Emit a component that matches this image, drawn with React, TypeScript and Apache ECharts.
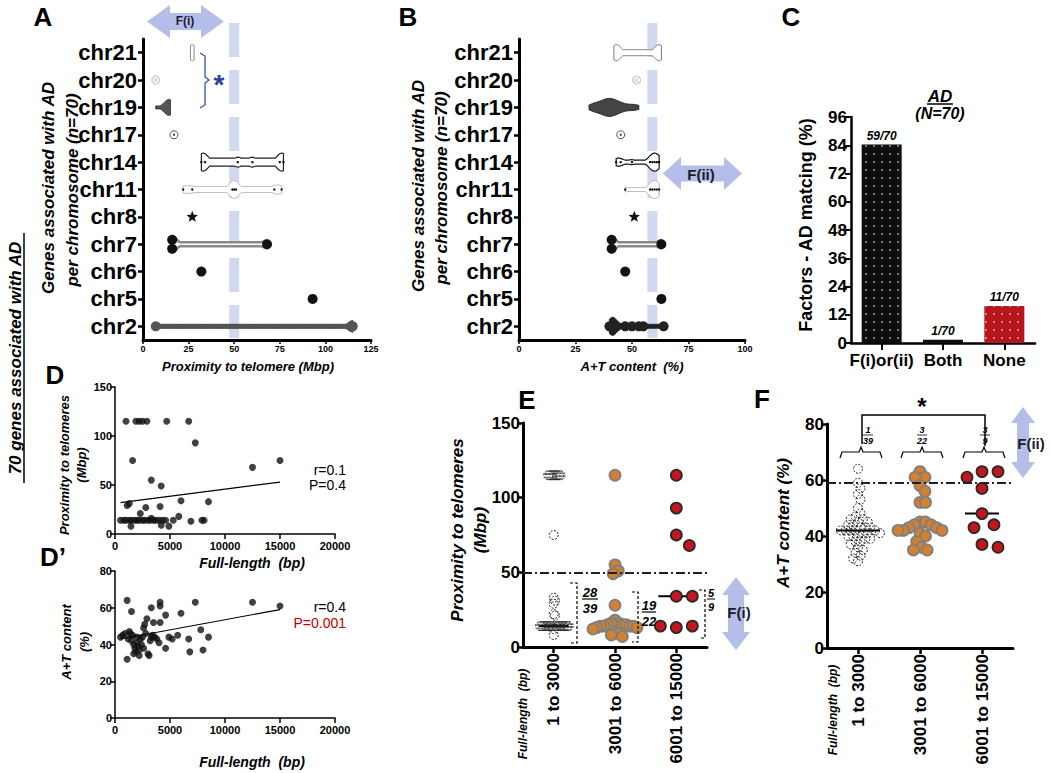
import React, { useEffect, useRef } from "react";
import * as echarts from "echarts";

const FONT = "'Liberation Sans', Arial, Helvetica, sans-serif";

// ---------- Panel A / B : genes per chromosome ----------
const chromosomes = ["chr2", "chr5", "chr6", "chr7", "chr8", "chr11", "chr14", "chr17", "chr19", "chr20", "chr21"];

const telomereA: number[][] = [
  [7, 115, 115, 115, 115, 115, 115, 115],
  [93],
  [32],
  [16, 16, 68],
  [27],
  [22, 27, 49, 50, 51, 72, 76],
  [32, 34, 52, 60, 75, 77],
  [17],
  [7, 12, 12.5, 13, 13, 13.5, 13.5, 14, 14, 14, 14, 14, 14, 14, 14, 14, 14, 14, 14, 14, 14, 14, 14, 14, 14.5, 14.5, 14.5, 14.5, 15, 15, 15, 15, 15, 15, 15, 15, 15, 15, 15, 15],
  [7],
  [26, 26.5, 27.5, 28],
];

const atContentB: number[][] = [
  [40, 41, 41, 41, 42, 42, 43, 47, 50, 53, 55, 64],
  [63],
  [47],
  [41, 41, 63],
  [51],
  [47, 58, 59, 60, 61, 62],
  [43, 45, 50, 58, 59, 60, 61, 62],
  [45],
  [31, 32, 33, 33, 34, 35, 35, 36, 36, 37, 37, 38, 38, 38, 39, 39, 39, 40, 40, 40, 41, 41, 41, 42, 42, 42, 43, 43, 44, 44, 45, 45, 46, 47, 48, 49, 50, 51, 52, 53],
  [52],
  [42, 44, 61, 63],
];

const thresholdA = 50;
const thresholdB = 59;

// ---------- Panel C ----------
const cCategories = ["F(i)or(ii)", "Both", "None"];
const cCounts = [59, 1, 11];
const cTotal = 70;

// ---------- Panel D ----------
const dLength = [1000, 1900, 2200, 2500, 2900, 4700, 6700, 7300, 1600, 15000, 12500, 3300, 4200, 6000, 8500, 1300, 1100, 2800, 4100, 2300, 5800, 3300,
  500, 800, 1000, 1300, 1500, 1800, 2000, 2200, 2500, 2700, 3000, 3200, 3500, 3700, 4000, 4300, 4600, 5300, 6900, 7900, 8100, 1450, 4200, 4900];
const dProximity = [115, 115, 115, 115, 115, 115, 115, 93, 75, 75, 68, 55, 49, 34, 33, 31, 29, 27, 28, 21, 18, 16,
  14, 14, 14, 14, 14, 14, 14, 14, 14, 14, 14, 14, 14, 14, 14, 14, 14, 14, 13, 14, 14, 8, 9, 8];
const dFit = [[500, 32], [15000, 53]];

// ---------- Panel D' ----------
const dpLength = [1100, 1500, 3300, 4100, 4100, 7300, 12500, 15000, 4600, 6000, 2900, 2700, 2600, 3500, 4100, 7800, 8500, 6700, 5200, 4900, 5700, 4600, 6800, 8000, 1100,
  500, 700, 900, 1200, 1300, 1500, 1600, 1700, 1800, 1900, 2000, 2100, 2200, 2300, 2400, 2500, 2600, 2800, 3000, 3100, 3200, 3300, 3400, 3600, 3800, 4000, 1700, 2200, 1400, 2000];
const dpContent = [64, 58, 60, 63, 61, 63, 63, 61, 56, 57, 54, 51, 49, 52, 52, 48, 44, 43, 43, 44, 45, 38, 36, 37, 32,
  44, 45, 46, 43, 47, 42, 45, 40, 38, 36, 41, 39, 37, 43, 40, 44, 38, 46, 35, 34, 42, 44, 45, 44, 43, 41, 35, 34, 46, 44];
const dpFit = [[500, 43], [15000, 59]];

// ---------- Panel E / F ----------
const lengthGroups = ["1 to 3000", "3001 to 6000", "6001 to 15000"];
const eShort = [115, 115, 115, 115, 115, 115, 115, 115, 115, 115, 75, 33, 31, 29, 22, 21, 12, 8,
  14, 14, 14, 14, 14, 14, 14, 14, 14, 14, 14, 14, 14, 14, 14, 14, 14, 14, 14, 14, 14];
const eMid = [115, 55, 51, 49, 28, 18, 16, 16, 15, 15, 15, 14, 14, 14, 14, 13, 13, 12, 10, 9, 8, 7];
const eLong = [115, 93, 75, 68, 34, 34, 13, 14, 14];
const fShort = [64, 59, 57, 55, 53, 50, 48, 47, 46, 46, 45, 45, 44, 44, 43, 43, 43, 42, 42, 42, 42, 42, 41, 41, 41, 40, 40, 40, 39, 39, 38, 38, 37, 36, 35, 34, 33, 32, 31];
const fMid = [63, 61, 61, 58, 56, 52, 52, 45, 45, 44, 44, 43, 43, 42, 42, 42, 41, 40, 38, 36, 35, 35];
const fLong = [63, 63, 61, 57, 48, 44, 43, 37, 36];

// ---------- helpers ----------
type VStyle = { kind: string; fill?: string; stroke?: string; lw?: number; maxHalf?: number; minHalf?: number; dots?: string; stack?: boolean };

const stylesA: VStyle[] = [
  { kind: "violin", fill: "#555", stroke: "#444", lw: 1, maxHalf: 6, minHalf: 2, dots: "big" },
  { kind: "big" },
  { kind: "big" },
  { kind: "violin", fill: "#fff", stroke: "#888", lw: 2.5, maxHalf: 8, minHalf: 2, dots: "big", stack: true },
  { kind: "star" },
  { kind: "violin", fill: "#fff", stroke: "#bbb", lw: 1, maxHalf: 9, minHalf: 3, dots: "small" },
  { kind: "violin", fill: "#fff", stroke: "#222", lw: 1.2, maxHalf: 9, minHalf: 4, dots: "small" },
  { kind: "circleDot" },
  { kind: "violin", fill: "#555", stroke: "#333", lw: 1, maxHalf: 8, minHalf: 1.5, dots: "none" },
  { kind: "circleX" },
  { kind: "violin", fill: "#fff", stroke: "#888", lw: 1, maxHalf: 8, minHalf: 3, dots: "none" },
];
const stylesB: VStyle[] = [
  { kind: "violin", fill: "#222", stroke: "#222", lw: 1, maxHalf: 9, minHalf: 2, dots: "big" },
  { kind: "big" },
  { kind: "big" },
  { kind: "violin", fill: "#fff", stroke: "#888", lw: 2.5, maxHalf: 8, minHalf: 2, dots: "big", stack: true },
  { kind: "star" },
  { kind: "violin", fill: "#fff", stroke: "#aaa", lw: 1, maxHalf: 9, minHalf: 2, dots: "small" },
  { kind: "violin", fill: "#fff", stroke: "#111", lw: 1.2, maxHalf: 9, minHalf: 2, dots: "small" },
  { kind: "circleDot" },
  { kind: "violin", fill: "#444", stroke: "#222", lw: 1, maxHalf: 9, minHalf: 2, dots: "none" },
  { kind: "circleX" },
  { kind: "violin", fill: "#fff", stroke: "#777", lw: 1, maxHalf: 8, minHalf: 3, dots: "none" },
];

function starPts(cx: number, cy: number, R: number, r: number) {
  const pts: number[][] = [];
  for (let k = 0; k < 10; k++) {
    const a = -Math.PI / 2 + (k * Math.PI) / 5;
    const rr = k % 2 ? r : R;
    pts.push([cx + rr * Math.cos(a), cy + rr * Math.sin(a)]);
  }
  return pts;
}

function marker(kind: string, x: number, y: number): any[] {
  if (kind === "big") return [{ type: "circle", shape: { cx: x, cy: y, r: 5 }, style: { fill: "#111" } }];
  if (kind === "circleDot")
    return [
      { type: "circle", shape: { cx: x, cy: y, r: 4 }, style: { fill: "#fff", stroke: "#555", lineWidth: 1 } },
      { type: "circle", shape: { cx: x, cy: y, r: 1 }, style: { fill: "#333" } },
    ];
  if (kind === "circleX")
    return [
      { type: "circle", shape: { cx: x, cy: y, r: 4 }, style: { fill: "#fff", stroke: "#bbb", lineWidth: 1 } },
      { type: "line", shape: { x1: x - 2.5, y1: y - 2.5, x2: x + 2.5, y2: y + 2.5 }, style: { stroke: "#bbb", lineWidth: 1 } },
      { type: "line", shape: { x1: x - 2.5, y1: y + 2.5, x2: x + 2.5, y2: y - 2.5 }, style: { stroke: "#bbb", lineWidth: 1 } },
    ];
  if (kind === "star") return [{ type: "polygon", shape: { points: starPts(x, y, 6, 2.6) }, style: { fill: "#111" } }];
  return [];
}

function makeViolinRender(values: number[][], styles: VStyle[], bw: number) {
  return (params: any, api: any) => {
    const ci = api.value(1);
    const vals = values[ci];
    const st = styles[ci];
    const yc = api.coord([0, ci])[1];
    if (st.kind !== "violin") {
      const p = api.coord([vals[0], ci]);
      return { type: "group", children: marker(st.kind, p[0], p[1]) };
    }
    const children: any[] = [];
    const lo = Math.min(...vals);
    const hi = Math.max(...vals);
    const N = 60;
    const dens: number[] = [];
    for (let i = 0; i <= N; i++) {
      const t = lo + ((hi - lo) * i) / N;
      let s = 0;
      for (const v of vals) s += Math.exp(-0.5 * ((t - v) / bw) ** 2);
      dens.push(s);
    }
    const mx = Math.max(...dens);
    const top: number[][] = [];
    const bot: number[][] = [];
    for (let i = 0; i <= N; i++) {
      const t = lo + ((hi - lo) * i) / N;
      const x = api.coord([t, ci])[0];
      const h = Math.max(st.minHalf as number, (dens[i] / mx) * (st.maxHalf as number));
      top.push([x, yc - h]);
      bot.unshift([x, yc + h]);
    }
    children.push({ type: "polygon", shape: { points: top.concat(bot) }, style: { fill: st.fill, stroke: st.stroke, lineWidth: st.lw } });
    const counts: Record<string, number> = {};
    vals.forEach((v) => (counts[v] = (counts[v] || 0) + 1));
    Object.keys(counts).forEach((key) => {
      const v = Number(key);
      const n = counts[key];
      const x = api.coord([v, ci])[0];
      if (st.dots === "big") {
        if (st.stack && n > 1) {
          for (let k = 0; k < n; k++) children.push({ type: "circle", shape: { cx: x, cy: yc + (k - (n - 1) / 2) * 9, r: 5 }, style: { fill: "#111" } });
        } else children.push({ type: "circle", shape: { cx: x, cy: yc, r: 5 }, style: { fill: st.fill === "#fff" ? "#111" : st.fill } });
      } else if (st.dots === "small") {
        children.push({ type: "circle", shape: { cx: x, cy: yc, r: 1.2 }, style: { fill: "#111" } });
      }
    });
    return { type: "group", children };
  };
}

const bandRender = (params: any, api: any) => {
  const x = api.coord([api.value(0), 0])[0];
  const cs = params.coordSys;
  return {
    type: "line",
    shape: { x1: x, y1: cs.y - 16, x2: x, y2: cs.y + cs.height - 2 },
    style: { stroke: "rgba(168,178,228,0.5)", lineWidth: 10, lineDash: [34, 13] },
  };
};

function swarmOffsets(ys: number[], d: number, maxHalf: number) {
  const off: number[] = [];
  const placed: number[][] = [];
  ys.forEach((y) => {
    let best = 0;
    for (let s = 0; s < 400; s++) {
      const c = s === 0 ? 0 : (s % 2 ? 1 : -1) * Math.ceil(s / 2);
      if (placed.every(([px, py]) => (px - c) ** 2 + (py - y) ** 2 >= d * d)) {
        best = c;
        break;
      }
    }
    off.push(best);
    placed.push([best, y]);
  });
  const m = Math.max(1e-6, ...off.map((o) => Math.abs(o)));
  const f = m > maxHalf ? maxHalf / m : 1;
  return off.map((o) => o * f);
}

function makeSwarm(groups: number[][], styles: any[], dList: number[], maxList: number[]) {
  const starts: number[] = [];
  let acc = 0;
  groups.forEach((g) => {
    starts.push(acc);
    acc += g.length;
  });
  const cache: Record<string, number[]> = {};
  return (params: any, api: any) => {
    const gi = api.value(0);
    const v = api.value(1);
    const k = params.dataIndex - starts[gi];
    const key = gi + "_" + params.coordSys.height;
    if (!cache[key]) {
      const ys = groups[gi].map((val) => api.coord([gi, val])[1]);
      cache[key] = swarmOffsets(ys, dList[gi], maxList[gi]);
    }
    const p = api.coord([gi, v]);
    const st = styles[gi];
    return {
      type: "circle",
      shape: { cx: p[0] + cache[key][k], cy: p[1], r: st.r },
      style: { fill: st.fill, stroke: st.stroke, lineWidth: st.lw, lineDash: st.dash },
    };
  };
}

function median(a: number[]) {
  const s = [...a].sort((x, y) => x - y);
  const n = s.length;
  return n % 2 ? s[(n - 1) / 2] : (s[n / 2 - 1] + s[n / 2]) / 2;
}

function makeMedian(halfs: number[]) {
  return (params: any, api: any) => {
    const gi = api.value(0);
    const p = api.coord([gi, api.value(1)]);
    return { type: "line", shape: { x1: p[0] - halfs[gi], y1: p[1], x2: p[0] + halfs[gi], y2: p[1] }, style: { stroke: "#000", lineWidth: 2 } };
  };
}

const swarmStyles = [
  { r: 4.5, fill: "rgba(255,255,255,0)", stroke: "#222", lw: 1, dash: [2, 1.5] },
  { r: 5.5, fill: "#d4802e", stroke: "#7f7f7f", lw: 1.8 },
  { r: 5.5, fill: "#c4161c", stroke: "#2a2a2a", lw: 1.8 },
];

function txt(x: number, y: number, text: string, size: number, o: any = {}) {
  return {
    type: "text",
    x,
    y,
    rotation: o.rot || 0,
    z: 100,
    style: {
      text,
      fontSize: size,
      fontFamily: FONT,
      fontWeight: o.weight || "bold",
      fontStyle: o.italic ? "italic" : "normal",
      fill: o.color || "#000",
      align: o.align || "center",
      verticalAlign: "middle",
    },
  };
}
function ln(x1: number, y1: number, x2: number, y2: number, w = 1.2, color = "#000", dash?: number[]) {
  return { type: "line", z: 100, shape: { x1, y1, x2, y2 }, style: { stroke: color, lineWidth: w, lineDash: dash } };
}
function pl(points: number[][], w = 1.2, color = "#000", dash?: number[]) {
  return { type: "polyline", z: 100, shape: { points }, style: { stroke: color, lineWidth: w, fill: "none", lineDash: dash } };
}
const ARROW = "#b5bee8";
function arrowH(x1: number, x2: number, yc: number, hh: number, sh: number, hl: number) {
  return {
    type: "polygon",
    z: 90,
    shape: {
      points: [
        [x1, yc], [x1 + hl, yc - hh], [x1 + hl, yc - sh], [x2 - hl, yc - sh], [x2 - hl, yc - hh], [x2, yc],
        [x2 - hl, yc + hh], [x2 - hl, yc + sh], [x1 + hl, yc + sh], [x1 + hl, yc + hh],
      ],
    },
    style: { fill: ARROW },
  };
}
function arrowV(xc: number, y1: number, y2: number, hw: number, sw: number, hl: number) {
  return {
    type: "polygon",
    z: 90,
    shape: {
      points: [
        [xc, y1], [xc + hw, y1 + hl], [xc + sw, y1 + hl], [xc + sw, y2 - hl], [xc + hw, y2 - hl], [xc, y2],
        [xc - hw, y2 - hl], [xc - sw, y2 - hl], [xc - sw, y1 + hl], [xc - hw, y1 + hl],
      ],
    },
    style: { fill: ARROW },
  };
}

const plain = (v: number) => String(v);
const axLab = (size: number, extra: any = {}) => ({ fontSize: size, fontWeight: "bold", color: "#000", fontFamily: FONT, ...extra });
const axLine = (w: number) => ({ show: true, onZero: false, lineStyle: { color: "#000", width: w } });
const axTick = (len: number, w: number, extra: any = {}) => ({ show: true, length: len, lineStyle: { color: "#000", width: w }, ...extra });

function buildOption() {
  const V = Math.PI / 2;
  const graphic: any[] = [
    // panel letters
    txt(43, 17, "A", 26), txt(408, 17, "B", 26), txt(791, 17, "C", 26),
    txt(55, 375, "D", 26), txt(53, 557, "D\u2019", 26), txt(527, 400, "E", 26), txt(762, 399, "F", 26),
    // big side label
    txt(15, 358, "70 genes associated with AD", 17, { rot: V, italic: true }),
    ln(24, 233, 24, 483, 1.5),
    // A axis names
    txt(48, 188, "Genes associated with AD", 17, { rot: V, italic: true }),
    txt(72, 190, "per chromosome (n=70)", 17, { rot: V, italic: true }),
    txt(248, 366, "Proximity to telomere (Mbp)", 13, { italic: true }),
    // B axis names
    txt(418, 186, "Genes associated with AD", 17, { rot: V, italic: true }),
    txt(441, 188, "per chromosome (n=70)", 17, { rot: V, italic: true }),
    txt(632, 366, "A+T content  (%)", 13, { italic: true }),
    // A arrow + bracket
    arrowH(147, 224, 21.5, 16.5, 8.5, 23),
    txt(185, 21, "F(i)", 12, { color: "#1b1b30" }),
    pl([[200, 53], [205, 56], [205, 77], [209, 80], [205, 83], [205, 105], [200, 108]], 1.3, "#3b4fa8"),
    txt(219, 84, "*", 28, { color: "#2d3f9e" }),
    // B arrow
    arrowH(663, 742, 173.5, 16.5, 8, 18),
    txt(701, 174, "F(ii)", 15, { color: "#1b1b30" }),
    // C
    txt(806, 225, "Factors - AD matcing (%)", 18, { rot: V }),
    txt(940, 96, "AD", 17, { italic: true }),
    ln(927, 104, 953, 104, 1.5),
    txt(940, 113, "(N=70)", 16, { italic: true }),
    // D
    txt(64, 465, "Proximity to telomeres", 13, { rot: V, italic: true }),
    txt(81, 465, "(Mbp)", 13, { rot: V, italic: true }),
    txt(252, 563, "Full-length  (bp)", 14, { italic: true }),
    txt(346, 470, "r=0.1", 14, { weight: "normal", align: "right" }),
    txt(346, 485, "P=0.4", 14, { weight: "normal", align: "right" }),
    // D'
    txt(66, 642, "A+T content", 13, { rot: V, italic: true }),
    txt(84, 642, "(%)", 13, { rot: V, italic: true }),
    txt(252, 762, "Full-length  (bp)", 14, { italic: true }),
    txt(346, 607, "r=0.4", 14, { weight: "normal", align: "right" }),
    txt(346, 623, "P=0.001", 14, { weight: "normal", align: "right", color: "#c00000" }),
    // E
    txt(457, 530, "Proximity to telomeres", 17, { rot: V, italic: true }),
    txt(480, 530, "(Mbp)", 17, { rot: V, italic: true }),
    txt(523, 714, "Full-length  (bp)", 12, { rot: V, italic: true }),
    pl([[570, 583], [577, 583], [577, 643], [570, 643]], 1.2, "#000", [3, 2]),
    pl([[632, 592], [638, 592], [638, 642], [632, 642]], 1.2, "#000", [3, 2]),
    pl([[699, 590], [705, 590], [705, 638], [699, 638]], 1.2, "#000", [3, 2]),
    txt(590, 592, "28", 13, { italic: true }), ln(582, 599, 598, 599, 1.2),
    txt(590, 608, "39", 13, { italic: true }),
    txt(649, 605, "19", 13, { italic: true }), ln(642, 612, 656, 612, 1.2),
    txt(649, 621, "22", 13, { italic: true }),
    txt(711, 593, "5", 11, { italic: true }), ln(707, 599, 715, 599, 1),
    txt(711, 607, "9", 11, { italic: true }),
    arrowV(736, 577, 650, 14, 8, 18),
    txt(739, 612, "F(i)", 15, { color: "#1b1b30" }),
    // F
    txt(783, 523, "A+T content (%)", 17, { rot: V, italic: true }),
    txt(833, 710, "Full-length  (bp)", 12, { rot: V, italic: true }),
    pl([[862, 444], [862, 415], [985, 415], [985, 446]], 1.5),
    txt(922, 406, "*", 24),
    arrowV(1023, 407, 478, 12, 6, 16),
    txt(1031, 443, "F(ii)", 15, { color: "#1b1b30" }),
  ];
  const fCenters = [861, 922, 984];
  const fFrac = [["1", "39", 868], ["3", "22", 922], ["3", "9", 985]];
  fCenters.forEach((c, i) => {
    graphic.push(pl([[c - 21, 458], [c - 19, 452], [c - 2, 452], [c, 447], [c + 2, 452], [c + 19, 452], [c + 21, 458]], 1.2));
    const [a, b, x] = fFrac[i] as any;
    graphic.push(txt(x, 430, a, 9, { italic: true }), ln(x - 5, 435, x + 5, 435, 0.8), txt(x, 441, b, 9, { italic: true }));
  });

  const cPercent = cCounts.map((c) => (c / cTotal) * 100);
  const cColors = ["#0d0d0d", "#0d0d0d", "#b5161b"];

  const eGroups = [eShort, eMid, eLong];
  const fGroups = [fShort, fMid, fLong];
  const toData = (groups: number[][]) => {
    const out: number[][] = [];
    groups.forEach((g, gi) => g.forEach((v) => out.push([gi, v])));
    return out;
  };

  const dash = [9, 3, 2, 3];

  return {
    animation: false,
    backgroundColor: "#fff",
    grid: [
      { left: 143, top: 39, width: 228, height: 301 },
      { left: 519, top: 39, width: 226, height: 301 },
      { left: 851, top: 117, width: 184, height: 226 },
      { left: 115, top: 387, width: 220, height: 147 },
      { left: 115, top: 571, width: 220, height: 147 },
      { left: 523, top: 423, width: 184, height: 224 },
      { left: 827, top: 424, width: 186, height: 224 },
    ],
    xAxis: [
      { gridIndex: 0, type: "value", min: 0, max: 125, interval: 25, axisLine: axLine(3), axisTick: axTick(4, 1.5), axisLabel: axLab(9, { margin: 4, formatter: plain }), splitLine: { show: false } },
      { gridIndex: 1, type: "value", min: 0, max: 100, interval: 25, axisLine: axLine(3), axisTick: axTick(4, 1.5), axisLabel: axLab(9, { margin: 4, formatter: plain }), splitLine: { show: false } },
      { gridIndex: 2, type: "category", data: cCategories, axisLine: axLine(2.5), axisTick: axTick(7, 2, { alignWithLabel: true }), axisLabel: axLab(17, { margin: 9, interval: 0 }) },
      { gridIndex: 3, type: "value", min: 0, max: 20000, interval: 5000, axisLine: axLine(1.5), axisTick: axTick(5, 1.5), axisLabel: axLab(11, { margin: 6, formatter: plain }), splitLine: { show: false } },
      { gridIndex: 4, type: "value", min: 0, max: 20000, interval: 5000, axisLine: axLine(1.5), axisTick: axTick(5, 1.5), axisLabel: axLab(11, { margin: 6, formatter: plain }), splitLine: { show: false } },
      { gridIndex: 5, type: "category", data: lengthGroups, axisLine: axLine(3), axisTick: axTick(6, 2.5, { alignWithLabel: true }), axisLabel: axLab(17, { rotate: 90, margin: 6, interval: 0 }) },
      { gridIndex: 6, type: "category", data: lengthGroups, axisLine: axLine(3), axisTick: axTick(6, 2.5, { alignWithLabel: true }), axisLabel: axLab(17, { rotate: 90, margin: 6, interval: 0 }) },
    ],
    yAxis: [
      { gridIndex: 0, type: "category", data: chromosomes, axisLine: axLine(3), axisTick: axTick(5, 2.5, { alignWithLabel: true }), axisLabel: axLab(22, { margin: 6, interval: 0 }) },
      { gridIndex: 1, type: "category", data: chromosomes, axisLine: axLine(3), axisTick: axTick(5, 2.5, { alignWithLabel: true }), axisLabel: axLab(22, { margin: 6, interval: 0 }) },
      { gridIndex: 2, type: "value", min: 0, max: 96, interval: 12, axisLine: axLine(2.5), axisTick: axTick(6, 2), axisLabel: axLab(17, { margin: 4, formatter: plain }), splitLine: { show: false } },
      { gridIndex: 3, type: "value", min: 0, max: 150, interval: 50, axisLine: axLine(1.5), axisTick: axTick(5, 1.5), axisLabel: axLab(11, { margin: 3, formatter: plain }), splitLine: { show: false } },
      { gridIndex: 4, type: "value", min: 0, max: 80, interval: 20, axisLine: axLine(1.5), axisTick: axTick(5, 1.5), axisLabel: axLab(11, { margin: 3, formatter: plain }), splitLine: { show: false } },
      { gridIndex: 5, type: "value", min: 0, max: 150, interval: 50, axisLine: axLine(3), axisTick: axTick(6, 2.5), axisLabel: axLab(17, { margin: 3, formatter: plain }), splitLine: { show: false } },
      { gridIndex: 6, type: "value", min: 0, max: 80, interval: 20, axisLine: axLine(3), axisTick: axTick(6, 2.5), axisLabel: axLab(17, { margin: 3, formatter: plain }), splitLine: { show: false } },
    ],
    series: [
      { type: "custom", xAxisIndex: 0, yAxisIndex: 0, data: [[thresholdA, 0]], encode: { x: 0, y: 1 }, renderItem: bandRender, clip: false, silent: true, z: 1 },
      { type: "custom", xAxisIndex: 0, yAxisIndex: 0, data: chromosomes.map((c, i) => [0, i]), encode: { x: 0, y: 1 }, renderItem: makeViolinRender(telomereA, stylesA, 2.5), clip: false, z: 3 },
      { type: "custom", xAxisIndex: 1, yAxisIndex: 1, data: [[thresholdB, 0]], encode: { x: 0, y: 1 }, renderItem: bandRender, clip: false, silent: true, z: 1 },
      { type: "custom", xAxisIndex: 1, yAxisIndex: 1, data: chromosomes.map((c, i) => [0, i]), encode: { x: 0, y: 1 }, renderItem: makeViolinRender(atContentB, stylesB, 1.8), clip: false, z: 3 },
      {
        type: "bar",
        xAxisIndex: 2,
        yAxisIndex: 2,
        barWidth: 40,
        data: cPercent.map((v, i) => ({
          value: v,
          itemStyle: {
            color: cColors[i],
            decal: { symbol: "rect", symbolSize: 0.4, color: "rgba(255,255,255,0.75)", dashArrayX: 4, dashArrayY: 4 },
          },
        })),
        label: {
          show: true,
          position: "top",
          distance: 3,
          formatter: (p: any) => `${cCounts[p.dataIndex]}/${cTotal}`,
          fontSize: 12,
          fontWeight: "bold",
          fontStyle: "italic",
          color: "#000",
          fontFamily: FONT,
        },
      },
      { type: "scatter", xAxisIndex: 3, yAxisIndex: 3, data: dLength.map((x, i) => [x, dProximity[i]]), symbolSize: 7, itemStyle: { color: "#111" } },
      { type: "line", xAxisIndex: 3, yAxisIndex: 3, data: dFit, symbol: "none", lineStyle: { color: "#000", width: 1.2 } },
      { type: "scatter", xAxisIndex: 4, yAxisIndex: 4, data: dpLength.map((x, i) => [x, dpContent[i]]), symbolSize: 7, itemStyle: { color: "#111" } },
      { type: "line", xAxisIndex: 4, yAxisIndex: 4, data: dpFit, symbol: "none", lineStyle: { color: "#000", width: 1.2 } },
      {
        type: "custom", xAxisIndex: 5, yAxisIndex: 5, z: 2, clip: false,
        data: eGroups.map((g, i) => [i, median(g)]), encode: { x: 0, y: 1 }, renderItem: makeMedian([15, 18, 18]),
        markLine: { silent: true, symbol: ["none", "none"], label: { show: false }, lineStyle: { color: "#222", width: 2, type: dash }, data: [{ yAxis: 50 }] },
      },
      { type: "custom", xAxisIndex: 5, yAxisIndex: 5, z: 3, clip: false, data: toData(eGroups), encode: { x: 0, y: 1 }, renderItem: makeSwarm(eGroups, swarmStyles, [5, 10, 16], [15, 22, 17]) },
      {
        type: "custom", xAxisIndex: 6, yAxisIndex: 6, z: 2, clip: false,
        data: fGroups.map((g, i) => [i, median(g)]), encode: { x: 0, y: 1 }, renderItem: makeMedian([22, 18, 17]),
        markLine: { silent: true, symbol: ["none", "none"], label: { show: false }, lineStyle: { color: "#222", width: 2, type: dash }, data: [{ yAxis: 59 }] },
      },
      { type: "custom", xAxisIndex: 6, yAxisIndex: 6, z: 3, clip: false, data: toData(fGroups), encode: { x: 0, y: 1 }, renderItem: makeSwarm(fGroups, swarmStyles, [6, 10, 16], [22, 22, 17]) },
    ],
    graphic,
  };
}

export default function App() {
  const ref = useRef<HTMLDivElement>(null);
  useEffect(() => {
    const chart = echarts.init(ref.current as HTMLDivElement, null, { renderer: "svg" });
    chart.setOption(buildOption() as any);
    return () => chart.dispose();
  }, []);
  return <div ref={ref} style={{ position: "fixed", left: 0, top: 0, width: 1050, height: 773, background: "#fff" }} />;
}
